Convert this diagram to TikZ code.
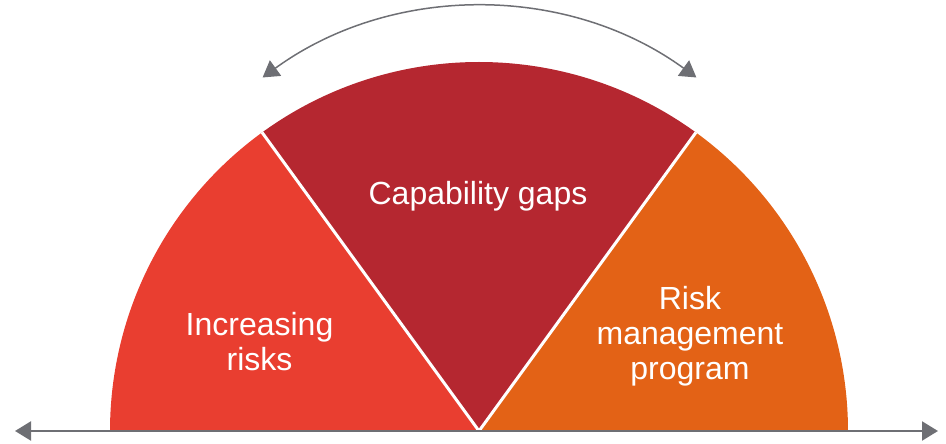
\documentclass[tikz,border=0pt]{standalone}
\usepackage{fontspec}
\setmainfont{Liberation Sans}
\usetikzlibrary{arrows.meta,calc}
\definecolor{riskRed}{RGB}{233,62,48}
\definecolor{gapRed}{RGB}{181,39,48}
\definecolor{progOrange}{RGB}{227,98,22}
\definecolor{arrowGray}{RGB}{110,111,116}

\begin{document}
\begin{tikzpicture}[x=1pt,y=1pt,
  label text/.style={text=white,align=center,inner sep=0pt,
    font=\fontsize{32}{35}\selectfont},
  gray arrow/.style={draw=arrowGray,
    {Triangle[length=16pt,width=19pt]}-{Triangle[length=16pt,width=19pt]}}]
\useasboundingbox (0,0) rectangle (946,444);
%Centres and arrow ends
\coordinate (Hub) at (479,13);
\coordinate (ArcHub) at (479.5,68);
\coordinate (AxisL) at (15,13);
\coordinate (AxisR) at (938,13);
\coordinate (SwingL) at ($(ArcHub)+(126:369)$);
%Sectors
\fill[riskRed] (Hub) -- +(180:369) arc[start angle=180,end angle=126,radius=369] -- cycle;
\fill[gapRed] (Hub) -- +(126:369) arc[start angle=126,end angle=54,radius=369] -- cycle;
\fill[progOrange] (Hub) -- +(54:369) arc[start angle=54,end angle=0,radius=369] -- cycle;
\draw[white,line width=3pt] (Hub) -- +(126:369);
\draw[white,line width=3pt] (Hub) -- +(54:369);
%Labels
\node at (259.5,102) [label text] (Risks) {Increasing\\risks};
\node at (478,239) [label text,anchor=base] (Gaps) {Capability gaps};
\node at (690,108) [label text] (Program) {Risk\\management\\program};
%Arrows
\draw[gray arrow,line width=2.2pt] (AxisL) -- (AxisR);
\draw[gray arrow,line width=1.5pt] (SwingL) arc[start angle=126,end angle=54,radius=369];
\end{tikzpicture}
\end{document}
